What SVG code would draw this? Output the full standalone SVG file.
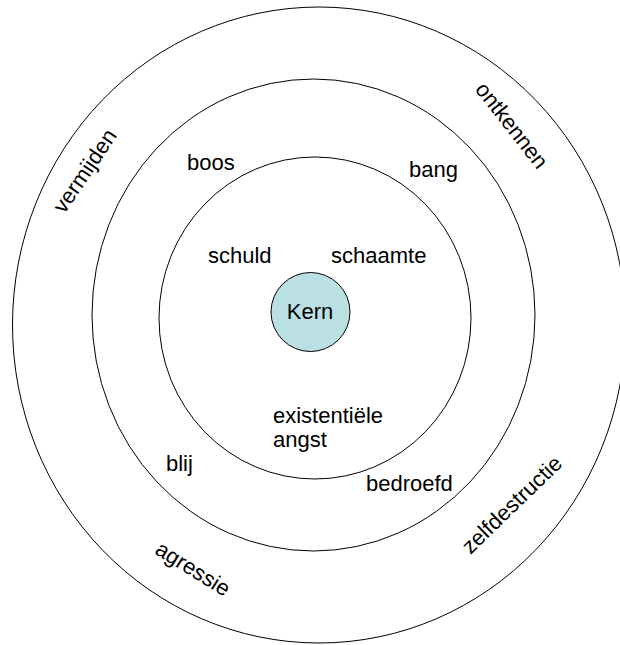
<svg xmlns="http://www.w3.org/2000/svg" width="620" height="645" viewBox="0 0 620 645">
<style>
.ring{fill:none;stroke:#000;stroke-width:1}
.lbl{font-family:"Liberation Sans",Arial,sans-serif;font-size:22px;fill:#000}
</style>
<rect width="620" height="645" fill="#fff"/>
<g id="outer">
<ellipse class="ring" cx="319" cy="325" rx="306.5" ry="318"/>
<text class="lbl" text-anchor="middle" transform="translate(91,175) rotate(-56)">vermijden</text>
<text class="lbl" text-anchor="middle" transform="translate(506,130) rotate(52)">ontkennen</text>
<text class="lbl" text-anchor="middle" transform="translate(189,575) rotate(32)">agressie</text>
<text class="lbl" text-anchor="middle" transform="translate(517,510) rotate(-44)">zelfdestructie</text>
</g>
<g id="middle">
<ellipse class="ring" cx="313.5" cy="315" rx="221.5" ry="236"/>
<text class="lbl" x="187" y="170">boos</text>
<text class="lbl" x="409" y="177">bang</text>
<text class="lbl" x="166" y="471">blij</text>
<text class="lbl" x="366" y="491">bedroefd</text>
</g>
<g id="inner">
<ellipse class="ring" cx="315" cy="318" rx="156" ry="161"/>
<text class="lbl" x="208" y="263">schuld</text>
<text class="lbl" x="331" y="263">schaamte</text>
<text class="lbl" x="273" y="423">existentiële</text>
<text class="lbl" x="273" y="447">angst</text>
</g>
<g id="kern">
<circle cx="310.5" cy="312" r="39.5" fill="#BBE0E3" stroke="#000" stroke-width="1"/>
<text class="lbl" x="310" y="319" text-anchor="middle">Kern</text>
</g>
<g id="connectors"/>
</svg>
